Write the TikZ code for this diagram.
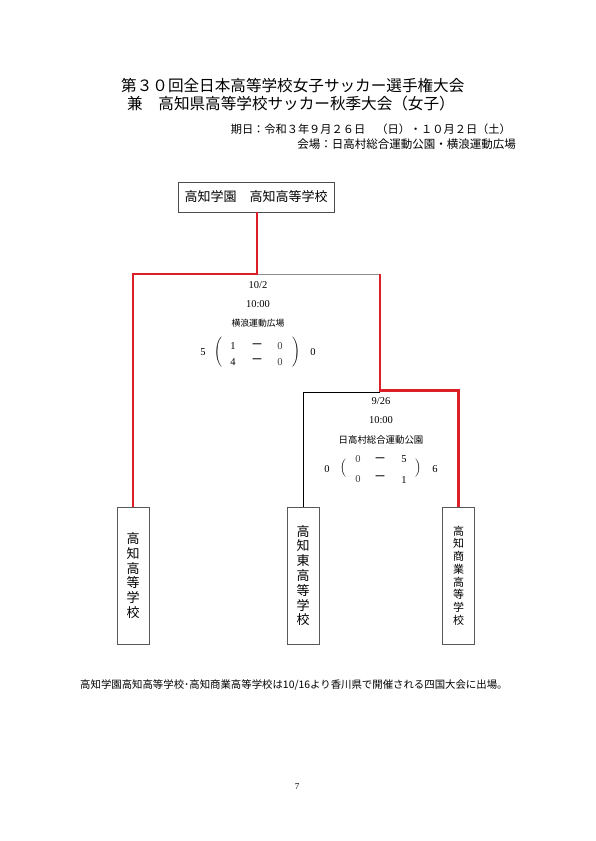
\documentclass[tikz,border=0pt]{standalone}
\usepackage{fontspec}
\setmainfont{Liberation Serif}
\newfontfamily\jp{Noto Sans CJK JP}
\definecolor{winred}{RGB}{218,32,38}
\begin{document}
\begin{tikzpicture}[x=1pt,y=-1pt,
  every node/.style={inner sep=0pt},
  title/.style={anchor=west,font=\jp\fontsize{15.6}{16}\selectfont},
  info/.style={anchor=east,font=\jp\fontsize{11.2}{12}\selectfont},
  champbox/.style={draw=black!70,line width=0.9pt,minimum width=156pt,minimum height=30pt,font=\jp\fontsize{13}{14}\selectfont},
  teambox/.style={draw=black!65,line width=0.9pt,minimum width=32pt,minimum height=137pt,align=center,font=\jp\fontsize{13}{14.8}\selectfont},
  teamboxsmall/.style={teambox,font=\jp\fontsize{11}{12.75}\selectfont},
  win/.style={draw=winred,line width=2.6pt},
  lose/.style={draw=black!45,line width=0.9pt},
  losedark/.style={draw=black,line width=0.8pt},
  lbl/.style={font=\fontsize{10.5}{12}\selectfont},
  venue/.style={font=\jp\fontsize{8.8}{10}\selectfont},
  sc/.style={font=\fontsize{10.5}{12}\selectfont},
  scoredash/.style={font=\jp\fontsize{11}{12}\selectfont}
]
\useasboundingbox (0,0) rectangle (595,841);
\fill[white] (0,0) rectangle (595,841);

% titles
\node[title] (t1) at (121,86) {第３０回全日本高等学校女子サッカー選手権大会};
\node[title] (t2) at (127,104) {兼　高知県高等学校サッカー秋季大会（女子）};
\node[info] (t3) at (511,129) {期日：令和３年９月２６日　（日）・１０月２日（土）};
\node[info,font=\jp\fontsize{11.5}{12}\selectfont] (t4) at (516,144) {会場：日高村総合運動公園・横浪運動広場};

% boxes
\node[champbox] (champ) at (256,197) {高知学園　高知高等学校};
\node[teambox] (team1) at (133,575.5) {高\\知\\高\\等\\学\\校};
\node[teambox] (team2) at (303,575.5) {高\\知\\東\\高\\等\\学\\校};
\node[teamboxsmall] (team3) at (458.5,575.5) {高\\知\\商\\業\\高\\等\\学\\校};

% junctions
\coordinate (j1) at (257,274);
\coordinate (j2) at (380,390.5);
\coordinate (j2b) at (380,392);

% connectors
\draw[lose] (j1) -- (j2 |- j1);
\draw[losedark] (j2b) -| (team2.north);
\draw[win] (champ.south -| j1) -- (j1) -| (team1.north);
\draw[win] (j2 |- j1) -- (j2) -| (team3.north);

% match 1 (10/2)
\node[lbl] (m1d) at (258,285) {10/2};
\node[lbl] (m1t) at (258,304) {10:00};
\node[venue] (m1v) at (258,323) {横浪運動広場};
\node[sc] (m1l) at (203,352) {5};
\node (m1po) at (218,352) {$\Biggl($};
\node[sc] (m1a1) at (233,346) {1};
\node[scoredash] (m1d1) at (257,346) {ー};
\node[sc,text=black!75] (m1b1) at (280,346) {0};
\node[sc] (m1a2) at (233,362) {4};
\node[scoredash] (m1d2) at (257,361) {ー};
\node[sc,text=black!75] (m1b2) at (280,362) {0};
\node (m1pc) at (296,352) {$\Biggr)$};
\node[sc] (m1r) at (313,352) {0};

% match 2 (9/26)
\node[lbl] (m2d) at (381,401) {9/26};
\node[lbl] (m2t) at (381,420) {10:00};
\node[venue,font=\jp\fontsize{9.4}{10}\selectfont] (m2v) at (381,440) {日高村総合運動公園};
\node[sc] (m2l) at (327,469) {0};
\node (m2po) at (343,468) {$\Bigl($};
\node[sc,text=black!75] (m2a1) at (358,459) {0};
\node[scoredash] (m2d1) at (380,460) {ー};
\node[sc] (m2b1) at (404,459) {5};
\node[sc,text=black!75] (m2a2) at (358,479) {0};
\node[scoredash] (m2d2) at (380,478) {ー};
\node[sc] (m2b2) at (404,480) {1};
\node (m2pc) at (418,468) {$\Bigr)$};
\node[sc] (m2r) at (435,469) {6};

% footnote
\node[anchor=west,font=\jp\fontsize{10.4}{12}\selectfont] (note) at (80,685) {高知学園高知高等学校･高知商業高等学校は10/16より香川県で開催される四国大会に出場。};
\node[font=\fontsize{9}{10}\selectfont] (page) at (297,787) {7};
\end{tikzpicture}
\end{document}
